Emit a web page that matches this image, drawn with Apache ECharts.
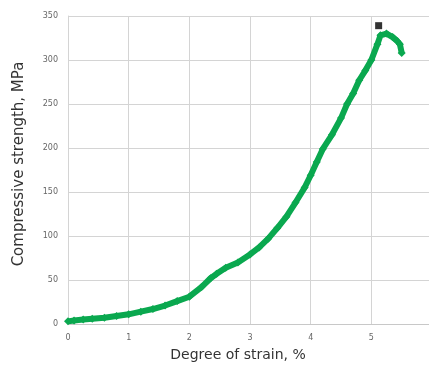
<!DOCTYPE html>
<html>
<head>
<meta charset="utf-8">
<script src="https://cdn.jsdelivr.net/npm/echarts@6/dist/echarts.min.js"></script>
<style>
  html, body { margin: 0; padding: 0; background: #fff; }
  #chart { width: 429px; height: 367px; }
</style>
</head>
<body>
<div id="chart"></div>
<script>
// strain, % -> strength, MPa
const strain = [0.0, 0.1, 0.25, 0.4, 0.6, 0.8, 1.0, 1.2, 1.4, 1.6, 1.8, 2.0, 2.2, 2.35, 2.45, 2.6, 2.8, 3.0, 3.15, 3.3, 3.45, 3.6, 3.75, 3.9, 4.0, 4.1, 4.2, 4.35, 4.5, 4.6, 4.7, 4.8, 4.9, 5.0, 5.1, 5.15, 5.25, 5.35, 5.42, 5.47, 5.5];
const strength = [3, 4, 5, 6, 7, 9, 11, 14, 17, 21, 26, 31, 42, 52, 57, 64, 70, 79, 87, 97, 109, 122, 138, 155, 169, 184, 199, 215, 234, 250, 262, 277, 288, 300, 318, 328, 330, 326, 322, 318, 308];
const peakPoint = [5.12, 339];
const yTicks = [0, 350, 50];

const chart = echarts.init(document.getElementById('chart'));
const axisLabel = { fontFamily: 'DejaVu Sans', fontSize: 8, color: '#666' };

chart.setOption({
  animation: false,
  grid: { left: 68, right: 0, top: 16, bottom: 42 },
  xAxis: {
    type: 'value',
    min: 0, max: 5.95, interval: 1,
    name: 'Degree of strain, %',
    nameLocation: 'middle',
    nameGap: 24,
    nameTextStyle: { fontFamily: 'DejaVu Sans', fontSize: 14, color: '#333', padding: [0, 21, 0, 0] },
    axisLine: { show: true, lineStyle: { color: '#c8c8c8' } },
    axisTick: { show: false },
    axisLabel: Object.assign({ margin: 10, showMaxLabel: false }, axisLabel),
    splitLine: { show: true, lineStyle: { color: '#d4d4d4' } }
  },
  yAxis: {
    type: 'value',
    min: yTicks[0], max: yTicks[1], interval: yTicks[2],
    name: 'Compressive strength, MPa',
    nameLocation: 'middle',
    nameGap: 41,
    nameTextStyle: { fontFamily: 'DejaVu Sans', fontSize: 15, color: '#333', padding: [0, 0, 0, 12] },
    axisLine: { show: true, lineStyle: { color: '#d4d4d4' } },
    axisTick: { show: false },
    axisLabel: Object.assign({ margin: 10 }, axisLabel),
    splitLine: { show: true, lineStyle: { color: '#d4d4d4' } }
  },
  series: [
    {
      type: 'line',
      data: strain.map((x, i) => [x, strength[i]]),
      showSymbol: true,
      symbol: 'diamond',
      symbolSize: 8,
      itemStyle: { color: '#0aa84f' },
      lineStyle: { color: '#0aa84f', width: 6 },
      z: 2
    },
    {
      type: 'scatter',
      data: [peakPoint],
      symbol: 'rect',
      symbolSize: 7,
      itemStyle: { color: '#000' },
      z: 3
    }
  ]
});
</script>
</body>
</html>
